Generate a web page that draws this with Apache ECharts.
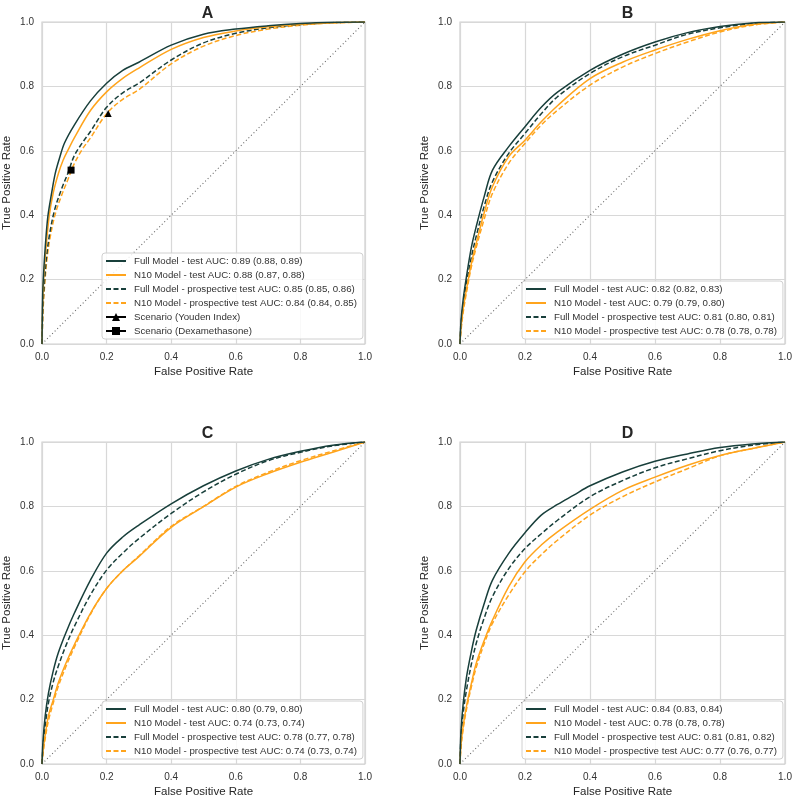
<!DOCTYPE html>
<html>
<head>
<meta charset="utf-8">
<script src="https://cdn.jsdelivr.net/npm/echarts@6/dist/echarts.min.js"></script>
<style>html,body{margin:0;padding:0;background:#fff}#c{width:800px;height:800px}</style>
</head>
<body>
<div id="c"></div>
<script>
// ---------- DATA (FPR, TPR) ----------
const panels = ['A', 'B', 'C', 'D'];
const ticks = [0, 0.2, 0.4, 0.6, 0.8, 1.0];
const diagonal = [[0, 0], [1, 1]];

const A_full_test = [[0,0],[0.002,0.15],[0.005,0.22],[0.01,0.3],[0.018,0.395],[0.03,0.47],[0.041,0.53],[0.055,0.58],[0.07,0.625],[0.1,0.68],[0.15,0.755],[0.2,0.81],[0.25,0.85],[0.3,0.875],[0.4,0.928],[0.5,0.962],[0.6,0.978],[0.7,0.988],[0.8,0.995],[0.9,0.999],[1,1]];
const A_n10_test = [[0,0],[0.002,0.12],[0.005,0.2],[0.01,0.27],[0.022,0.395],[0.035,0.47],[0.051,0.53],[0.065,0.57],[0.082,0.605],[0.1,0.64],[0.15,0.725],[0.2,0.783],[0.25,0.825],[0.3,0.857],[0.4,0.915],[0.5,0.952],[0.6,0.972],[0.7,0.985],[0.8,0.993],[0.9,0.998],[1,1]];
const A_full_prosp = [[0,0],[0.003,0.12],[0.008,0.2],[0.015,0.28],[0.025,0.35],[0.04,0.42],[0.06,0.48],[0.08,0.53],[0.1,0.585],[0.125,0.625],[0.15,0.66],[0.2,0.735],[0.25,0.78],[0.3,0.81],[0.4,0.882],[0.5,0.935],[0.6,0.965],[0.7,0.982],[0.8,0.992],[0.9,0.998],[1,1]];
const A_n10_prosp = [[0,0],[0.003,0.1],[0.008,0.18],[0.015,0.26],[0.025,0.33],[0.04,0.4],[0.06,0.46],[0.08,0.51],[0.1,0.56],[0.125,0.605],[0.15,0.64],[0.2,0.715],[0.25,0.76],[0.3,0.79],[0.4,0.87],[0.5,0.925],[0.6,0.958],[0.7,0.978],[0.8,0.99],[0.9,0.997],[1,1]];
const A_youden = [[0.205, 0.716]];
const A_dexa = [[0.09, 0.54]];

const B_full_test = [[0,0],[0.003,0.07],[0.01,0.14],[0.02,0.21],[0.035,0.3],[0.05,0.365],[0.075,0.46],[0.1,0.54],[0.15,0.613],[0.2,0.675],[0.25,0.735],[0.3,0.782],[0.4,0.85],[0.5,0.9],[0.6,0.938],[0.7,0.967],[0.8,0.986],[0.9,0.997],[1,1]];
const B_n10_test = [[0,0],[0.003,0.05],[0.01,0.11],[0.02,0.17],[0.035,0.25],[0.05,0.313],[0.075,0.41],[0.1,0.489],[0.15,0.582],[0.2,0.633],[0.25,0.69],[0.3,0.74],[0.4,0.824],[0.5,0.875],[0.6,0.913],[0.7,0.946],[0.8,0.973],[0.9,0.992],[1,1]];
const B_full_prosp = [[0,0],[0.003,0.06],[0.01,0.12],[0.02,0.19],[0.035,0.27],[0.05,0.335],[0.075,0.43],[0.1,0.504],[0.15,0.592],[0.2,0.654],[0.25,0.715],[0.3,0.768],[0.4,0.84],[0.5,0.892],[0.6,0.928],[0.7,0.962],[0.8,0.982],[0.9,0.995],[1,1]];
const B_n10_prosp = [[0,0],[0.003,0.04],[0.01,0.1],[0.02,0.16],[0.035,0.24],[0.05,0.3],[0.075,0.39],[0.1,0.468],[0.15,0.561],[0.2,0.623],[0.25,0.68],[0.3,0.726],[0.4,0.804],[0.5,0.86],[0.6,0.902],[0.7,0.938],[0.8,0.969],[0.9,0.99],[1,1]];

const C_full_test = [[0,0],[0.003,0.07],[0.01,0.15],[0.02,0.22],[0.035,0.29],[0.05,0.344],[0.075,0.41],[0.1,0.468],[0.15,0.571],[0.2,0.655],[0.25,0.705],[0.3,0.742],[0.4,0.808],[0.5,0.864],[0.6,0.91],[0.7,0.946],[0.8,0.971],[0.9,0.99],[1,1]];
const C_n10_test = [[0,0],[0.003,0.04],[0.01,0.09],[0.02,0.15],[0.035,0.2],[0.05,0.251],[0.075,0.315],[0.1,0.37],[0.15,0.468],[0.2,0.545],[0.25,0.6],[0.3,0.644],[0.4,0.735],[0.5,0.799],[0.6,0.86],[0.7,0.902],[0.8,0.937],[0.9,0.968],[1,1]];
const C_full_prosp = [[0,0],[0.003,0.05],[0.01,0.12],[0.02,0.19],[0.035,0.255],[0.05,0.303],[0.075,0.37],[0.1,0.427],[0.15,0.525],[0.2,0.602],[0.25,0.655],[0.3,0.7],[0.4,0.778],[0.5,0.845],[0.6,0.9],[0.7,0.942],[0.8,0.968],[0.9,0.988],[1,1]];
const C_n10_prosp = [[0,0],[0.003,0.03],[0.01,0.08],[0.02,0.135],[0.035,0.19],[0.05,0.24],[0.075,0.305],[0.1,0.362],[0.15,0.465],[0.2,0.545],[0.25,0.6],[0.3,0.646],[0.4,0.738],[0.5,0.8],[0.6,0.862],[0.7,0.906],[0.8,0.942],[0.9,0.972],[1,1]];

const D_full_test = [[0,0],[0.003,0.1],[0.01,0.19],[0.02,0.27],[0.035,0.35],[0.05,0.416],[0.075,0.5],[0.1,0.571],[0.15,0.654],[0.2,0.718],[0.25,0.773],[0.3,0.806],[0.35,0.835],[0.4,0.864],[0.5,0.907],[0.6,0.94],[0.7,0.963],[0.8,0.983],[0.9,0.994],[1,1]];
const D_n10_test = [[0,0],[0.003,0.06],[0.01,0.12],[0.02,0.18],[0.035,0.25],[0.05,0.313],[0.075,0.385],[0.1,0.447],[0.15,0.551],[0.2,0.628],[0.25,0.68],[0.3,0.721],[0.4,0.791],[0.5,0.85],[0.6,0.891],[0.7,0.928],[0.8,0.958],[0.9,0.98],[1,1]];
const D_full_prosp = [[0,0],[0.003,0.08],[0.01,0.16],[0.02,0.23],[0.035,0.31],[0.05,0.375],[0.075,0.455],[0.1,0.52],[0.15,0.607],[0.2,0.669],[0.25,0.715],[0.3,0.757],[0.4,0.83],[0.5,0.88],[0.6,0.92],[0.7,0.948],[0.8,0.973],[0.9,0.99],[1,1]];
const D_n10_prosp = [[0,0],[0.003,0.05],[0.01,0.11],[0.02,0.17],[0.035,0.24],[0.05,0.3],[0.075,0.375],[0.1,0.437],[0.15,0.525],[0.2,0.597],[0.25,0.65],[0.3,0.695],[0.4,0.773],[0.5,0.83],[0.6,0.876],[0.7,0.917],[0.8,0.957],[0.9,0.98],[1,1]];

const A_labels = ['Full Model - test AUC: 0.89 (0.88, 0.89)','N10 Model - test AUC: 0.88 (0.87, 0.88)','Full Model - prospective test AUC: 0.85 (0.85, 0.86)','N10 Model - prospective test AUC: 0.84 (0.84, 0.85)'];
const B_labels = ['Full Model - test AUC: 0.82 (0.82, 0.83)','N10 Model - test AUC: 0.79 (0.79, 0.80)','Full Model - prospective test AUC: 0.81 (0.80, 0.81)','N10 Model - prospective test AUC: 0.78 (0.78, 0.78)'];
const C_labels = ['Full Model - test AUC: 0.80 (0.79, 0.80)','N10 Model - test AUC: 0.74 (0.73, 0.74)','Full Model - prospective test AUC: 0.78 (0.77, 0.78)','N10 Model - prospective test AUC: 0.74 (0.73, 0.74)'];
const D_labels = ['Full Model - test AUC: 0.84 (0.83, 0.84)','N10 Model - test AUC: 0.78 (0.78, 0.78)','Full Model - prospective test AUC: 0.81 (0.81, 0.82)','N10 Model - prospective test AUC: 0.77 (0.76, 0.77)'];
const scenarioLabels = ['Scenario (Youden Index)', 'Scenario (Dexamethasone)'];

// ---------- STYLE / LAYOUT ----------
const DARK = '#183f3b', ORANGE = '#ffa41c';
const FONT = 'Liberation Sans, Arial, sans-serif';
const curves = {
  A: [A_full_test, A_n10_test, A_full_prosp, A_n10_prosp],
  B: [B_full_test, B_n10_test, B_full_prosp, B_n10_prosp],
  C: [C_full_test, C_n10_test, C_full_prosp, C_n10_prosp],
  D: [D_full_test, D_n10_test, D_full_prosp, D_n10_prosp]
};
const labels = { A: A_labels, B: B_labels, C: C_labels, D: D_labels };
const gridPos = [
  { left: 40, top: 22 }, { left: 460, top: 22 },
  { left: 40, top: 442 }, { left: 460, top: 442 }
];
const GW = 325, GH = 322;
const legendPos = [
  { left: 102, top: 253 }, { left: 522, top: 281 },
  { left: 102, top: 701 }, { left: 522, top: 701 }
];
const curveStyles = [
  { color: DARK, type: 'solid' }, { color: ORANGE, type: 'solid' },
  { color: DARK, type: [5, 2.5] }, { color: ORANGE, type: [5, 2.5] }
];

const grid = [], xAxis = [], yAxis = [], series = [], legend = [], title = [];
panels.forEach((p, i) => {
  const g = gridPos[i];
  grid.push({ left: g.left, top: g.top, width: GW, height: GH, show: true, borderColor: '#cfcfcf', borderWidth: 1.2, backgroundColor: '#fff' });
  const axisCommon = {
    type: 'value', gridIndex: i, min: 0, max: 1, interval: 0.2,
    axisLine: { show: false }, axisTick: { show: false },
    splitLine: { show: true, lineStyle: { color: '#d8d8d8', width: 1.2 } },
    axisLabel: { color: '#333', fontFamily: FONT, fontSize: 10, margin: 8, formatter: v => v.toFixed(1) },
    nameLocation: 'middle', nameTextStyle: { color: '#262626', fontFamily: FONT, fontSize: 11.5 }
  };
  xAxis.push(Object.assign({}, axisCommon, { name: 'False Positive Rate', nameGap: 22 }));
  yAxis.push(Object.assign({}, axisCommon, { name: 'True Positive Rate', nameGap: 29 }));
  title.push({ text: p, left: g.left + GW / 2, top: g.top - 21, textAlign: 'center',
    textStyle: { fontFamily: FONT, fontSize: 16, fontWeight: 'bold', color: '#262626' } });

  series.push({ type: 'line', name: 'diag' + p, xAxisIndex: i, yAxisIndex: i, data: diagonal, symbol: 'none',
    lineStyle: { color: '#666', width: 1.1, type: [1, 2.6] }, silent: true, z: 1 });
  const names = labels[p].map(n => ({ name: n, itemStyle: { opacity: 0 } }));
  curves[p].forEach((d, k) => {
    series.push({ type: 'line', name: labels[p][k], xAxisIndex: i, yAxisIndex: i, data: d, symbol: 'none',
      smooth: 0.35, color: curveStyles[k].color,
      lineStyle: { color: curveStyles[k].color, width: 1.5, type: curveStyles[k].type }, z: 3 + (3 - k) });
  });
  if (p === 'A') {
    series.push({ type: 'line', name: scenarioLabels[0], xAxisIndex: 0, yAxisIndex: 0, data: A_youden,
      symbol: 'triangle', symbolSize: 7, color: '#000', lineStyle: { color: '#000', width: 1.5 },
      itemStyle: { color: '#000' }, z: 10 });
    series.push({ type: 'line', name: scenarioLabels[1], xAxisIndex: 0, yAxisIndex: 0, data: A_dexa,
      symbol: 'rect', symbolSize: 7, color: '#000', lineStyle: { color: '#000', width: 1.5 },
      itemStyle: { color: '#000' }, z: 10 });
    names.push({ name: scenarioLabels[0] }, { name: scenarioLabels[1] });
  }
  legend.push({
    data: names, orient: 'vertical', left: legendPos[i].left, top: legendPos[i].top,
    itemWidth: 20, itemHeight: 10, itemGap: 4, padding: [3, 6, 3, 3],
    backgroundColor: 'rgba(255,255,255,0.85)', borderColor: '#d0d0d0', borderWidth: 1, borderRadius: 3,
    textStyle: { color: '#333', fontFamily: FONT, fontSize: 9.7, lineHeight: 10, padding: [0, 0, 0, 3] },
    selectedMode: false
  });
});

const chart = echarts.init(document.getElementById('c'), null, { renderer: 'canvas' });
chart.setOption({ animation: false, backgroundColor: '#fff', title, grid, xAxis, yAxis, legend, series });
</script>
</body>
</html>
